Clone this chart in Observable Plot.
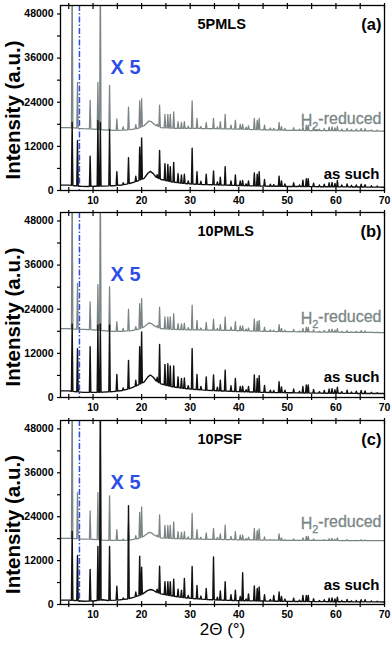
<!DOCTYPE html>
<html><head><meta charset="utf-8">
<script src="https://cdn.jsdelivr.net/npm/d3@7"></script>
<script src="https://cdn.jsdelivr.net/npm/@observablehq/plot@0.6"></script>
<style>
body{margin:0;background:#fff;}
#chart svg{display:block;}
#chart text{font-family:"Liberation Sans", Arial, Helvetica, sans-serif;}
</style>
</head><body><div id="chart"></div>
<script>
// ---------- data ----------
const panelNames = ["5PMLS", "10PMLS", "10PSF"];
const panelTags = ["(a)", "(b)", "(c)"];
const traceLabels = ["H2-reduced", "as such"];
const magnifyLabel = "X 5";
const yTitle = "Intensity (a.u.)";
const xTitle = "2\u0398 (\u00b0)";
const markerLine = [7.2];
const yTickLabels = [0, 12000, 24000, 36000, 48000];
const yTickMarks = [0, 6000, 12000, 18000, 24000, 30000, 36000, 42000, 48000];
const xTickLabels = [10, 20, 30, 40, 50, 60, 70];
const xTickMarks = [5, 10, 15, 20, 25, 30, 35, 40, 45, 50, 55, 60, 65, 70];

// reflection positions (2θ)
const peakPos = [5.7, 6.8, 9.4, 11.0, 11.5, 13.4, 14.9, 16.2, 17.3, 18.8,
  19.6, 20.0, 23.2, 23.7, 24.8, 25.4, 25.9, 26.6, 27.5, 28.2,
  28.8, 29.6, 30.4, 31.4, 32.2, 33.3, 34.8, 35.6, 36.2, 37.2,
  38.4, 39.3, 40.3, 40.8, 41.5, 42.0, 43.2, 43.8, 44.2, 45.3,
  46.5, 47.2, 48.3, 48.8, 49.5, 51.3, 52.5, 53.2, 53.9, 54.3,
  55.4, 56.6, 57.6, 58.6, 59.2, 59.8, 60.3, 61.2, 62.3, 63.2,
  64.2, 65.2, 66.0, 67.3, 68.5];

// ---- panel (a) 5PMLS ----
const baseAsSuchA = [[3.3,1450],[5,1450],[6.2,1300],[7.5,1150],[9,1100],[10.5,1150],[12,1200],[14,1300],[16,1500],[17.5,1900],[19,2500],[20.5,3300],[21.3,4700],[21.8,5200],[22.4,4600],[23,3600],[24,3000],[26,2400],[28,2000],[30,1800],[33,1600],[36,1500],[40,1350],[45,1200],[50,1100],[55,1050],[60,1000],[65,950],[70,900]];
const peaksAsSuchA = [18500,13600,9300,19000,18500, 16600,5100,2100,8900,3900,
  11800,14300,4300,10900,7300, 7100,6500,7600,4600,4200,
  4400,2600,11500,5100,2500, 4400,5300,2300,3600,6500,
  2600,4200,2600,2700,1800, 2600,4800,4400,5100,3000,
  1700,1600,3900,2600,1800, 2100,1500,2800,3200,3200,
  2000,1500,1700,2100,2200, 1900,2700,1500,1800,1400,
  1500,1700,1600,1300,1200];
const baseReducedA = [[3.3,17100],[5,17100],[6.2,17000],[8,16800],[10,16700],[12,16500],[14,16350],[16,16400],[18,16600],[19.5,17000],[20.5,17600],[21.5,18900],[22,18700],[22.8,17800],[24,17100],[27,16900],[30,16900],[35,16800],[40,16700],[45,16500],[50,16350],[60,16250],[70,16150]];
const peaksReducedA = [60000,29400,24600,29400,60000, 28600,19500,17300,22700,17900,
  24400,25000,18000,23200,20700, 20700,20700,21400,18700,18500,
  18700,17500,24400,19600,17400, 18500,19600,17300,18700,20700,
  17800,19100,18000,18000,17200, 17600,19600,19100,19600,17800,
  17000,16900,18500,17400,16900, 17100,16700,17400,17800,17800,
  17100,16700,16900,17200,17300, 17000,17400,16700,16900,16600,
  16700,16900,16800,16500,16450];

// ---- panel (b) 10PMLS ----
const baseAsSuchB = [[3.3,1800],[5,1800],[6.2,1600],[8,1400],[10,1400],[12,1450],[14,1600],[16,1900],[17.5,2400],[19,3200],[20.5,4200],[21.3,5600],[21.8,6100],[22.4,5500],[23,4500],[24,3700],[26,3000],[28,2600],[30,2300],[33,2000],[36,1800],[40,1600],[45,1400],[50,1300],[55,1200],[60,1150],[65,1100],[70,1100]];
const peaksAsSuchB = [20000,13300,13800,19700,20000, 19700,6300,2600,10100,4700,
  13800,17800,5500,14400,9000, 9200,8600,8600,5600,5200,
  5300,3200,13300,6300,3000, 5600,6100,2800,4700,7400,
  3200,5200,3000,3100,2100, 3000,6100,5200,5900,3300,
  2000,1900,4300,2900,2000, 2300,1700,3000,3400,3400,
  2200,1600,1900,2300,2400, 2100,2800,1600,2000,1500,
  1700,1900,1800,1400,1300];
const baseReducedB = [[3.3,18750],[5,18750],[6.2,18600],[8,18500],[10,18400],[12,18200],[14,18000],[16,18000],[18,18200],[19.5,18600],[20.5,19200],[21.5,20300],[22,20100],[22.8,19300],[24,18700],[27,18500],[30,18400],[35,18300],[40,18200],[45,18000],[50,17900],[60,17750],[70,17650]];
const peaksReducedB = [60000,31000,26000,30700,60000, 30100,20600,18800,24000,19300,
  25500,26900,19600,24600,21900, 21900,21900,22800,20100,20000,
  20200,19000,25100,21000,18900, 20400,21300,18800,19800,21900,
  19200,20600,19500,19500,18600, 18900,21300,20700,21000,19100,
  18400,18300,19800,18800,18300, 18500,18100,18800,19100,19100,
  18400,18000,18200,18500,18600, 18300,18700,18000,18200,17900,
  18000,18200,18100,17800,17800];

// ---- panel (c) 10PSF ----
const baseAsSuchC = [[3.3,1200],[5,1200],[6.2,1100],[8,900],[10,950],[12,1300],[13,1100],[15,1200],[17,1500],[18.5,2000],[20,2700],[21.2,3800],[21.8,4100],[22.4,3900],[23,3400],[24,2900],[26,2400],[28,2000],[30,1700],[33,1400],[36,1200],[40,1050],[45,950],[50,850],[60,750],[70,700]];
const peaksAsSuchC = [20000,13400,9600,15900,60000, 15900,5000,1800,27000,3400,
  13200,10200,4200,10500,6200, 6200,6200,6900,4200,3900,
  7100,2500,10400,5200,2300, 4400,13000,2000,3700,6200,
  2700,3900,2200,8700,1500, 2900,5100,4400,4800,2700,
  1400,2500,3400,2200,1500, 1700,1200,2500,2500,2500,
  1600,1100,1300,1700,1800, 1500,2000,1100,1400,1000,
  1100,1300,1300,950,900];
const baseReducedC = [[3.3,18100],[5,18100],[6.2,18000],[8,17900],[10,17800],[12,17600],[14,17500],[16,17500],[18,17700],[19.5,18100],[20.5,18700],[21.5,19700],[22,19600],[22.8,18800],[24,18200],[27,18000],[30,17900],[35,17800],[40,17700],[45,17600],[50,17550],[60,17500],[70,17450]];
const peaksReducedC = [60000,30600,25600,30600,45000, 29700,20500,17900,22500,18800,
  25200,26700,19000,24500,21600, 21600,21600,22600,19900,19700,
  19900,18500,24900,20500,18400, 19600,20800,18300,19300,21700,
  18600,19900,19000,19000,18000, 18400,20800,20200,20700,18500,
  17800,17700,19300,18200,17700, 17900,17500,18200,18600,18600,
  17900,17500,17700,18000,18100, 17800,18200,17500,17700,17400,
  17500,17700,17600,17400,17400];

// ---------- build traces (baseline + reflections) ----------
function baseAt(base, x) {
  for (let i = 0; i < base.length - 1; i++) {
    const [x0, y0] = base[i], [x1, y1] = base[i + 1];
    if (x >= x0 && x <= x1) return y0 + (y1 - y0) * (x - x0) / (x1 - x0);
  }
  return base[base.length - 1][1];
}
function buildTrace(base, apex) {
  const w = 0.15;
  const active = peakPos.map((p, i) => apex[i] > baseAt(base, p));
  const pts = base.filter(([x]) => !peakPos.some((p, i) => active[i] && Math.abs(x - p) <= w))
    .map(([x, y]) => ({x, y}));
  peakPos.forEach((p, i) => {
    if (!active[i]) return;
    pts.push({x: p - w, y: baseAt(base, p - w)}, {x: p, y: apex[i]}, {x: p + w, y: baseAt(base, p + w)});
  });
  pts.sort((a, b) => a.x - b.x);
  return pts;
}

const panels = [
  {asSuch: buildTrace(baseAsSuchA, peaksAsSuchA), reduced: buildTrace(baseReducedA, peaksReducedA),
   height: 207, mt: 5, mb: 17, redDy: 109, suchDy: 163},
  {asSuch: buildTrace(baseAsSuchB, peaksAsSuchB), reduced: buildTrace(baseReducedB, peaksReducedB),
   height: 207, mt: 5, mb: 17, redDy: 100, suchDy: 159},
  {asSuch: buildTrace(baseAsSuchC, peaksAsSuchC), reduced: buildTrace(baseReducedC, peaksReducedC),
   height: 232, mt: 6, mb: 42, redDy: 97, suchDy: 159}
];

const BLUE = "#2d4ee6", GRAY = "#7a8484", BLACK = "#111";
const FONT = "Liberation Sans, Arial, Helvetica, sans-serif";

function makePanel(i) {
  const P = panels[i];
  const T = {fontFamily: FONT};
  const marks = [
    Plot.ruleX(markerLine, {stroke: BLUE, strokeWidth: 1.5, strokeDasharray: "6,2,1.5,2"}),
    Plot.line(P.reduced, {x: "x", y: "y", stroke: GRAY, strokeWidth: 1.25, clip: true}),
    Plot.line(P.asSuch, {x: "x", y: "y", stroke: BLACK, strokeWidth: 1.4, clip: true}),
    Plot.frame({stroke: "#000", strokeWidth: 1.3}),
    Plot.axisX({anchor: "bottom", ticks: xTickMarks, tickSize: 6, dy: -3, tickFormat: () => "", label: null, strokeWidth: 1.2}),
    Plot.axisX({anchor: "top", ticks: xTickMarks, tickSize: 6, dy: 3, tickFormat: () => "", label: null, strokeWidth: 1.2}),
    Plot.axisX({...T, anchor: "bottom", ticks: xTickLabels, tickSize: 0, tickPadding: 6.5, label: null, tickFormat: d => String(d), fontSize: 10.5, fontWeight: "bold"}),
    Plot.axisY({anchor: "left", ticks: yTickMarks, tickSize: 3, tickFormat: () => "", label: null, strokeWidth: 1.2}),
    Plot.axisY({...T, anchor: "left", ticks: yTickLabels, tickSize: 0, tickPadding: 7, label: null, tickFormat: d => String(d), fontSize: 10.5, fontWeight: "bold"}),
    Plot.text([yTitle], {...T, text: d => d, frameAnchor: "left", dx: -47.5, dy: 12, rotate: -90, textAnchor: "middle", fontSize: 20.5, fontWeight: "bold", fill: "#000"}),
    Plot.text([panelNames[i]], {...T, text: d => d, frameAnchor: "top", dx: -25, dy: 13, textAnchor: "start", fontSize: 14.5, fontWeight: "bold", fill: "#000"}),
    Plot.text([panelTags[i]], {...T, text: d => d, frameAnchor: "top-right", dx: -3, dy: 13, textAnchor: "end", fontSize: 16.5, fontWeight: "bold", fill: "#000"}),
    Plot.text([magnifyLabel], {...T, text: d => d, frameAnchor: "top-left", dx: 50, dy: 54, textAnchor: "start", fontSize: 20, fontWeight: "bold", fill: BLUE}),
    Plot.text([traceLabels[0]], {...T, text: d => d, frameAnchor: "top-right", dx: -3, dy: P.redDy, textAnchor: "end", fontSize: 16, fontWeight: "normal", fill: "#7a8686", stroke: "#7a8686", strokeWidth: 0.3}),
    Plot.text([traceLabels[1]], {...T, text: d => d, frameAnchor: "top-right", dx: -5, dy: P.suchDy, textAnchor: "end", fontSize: 15, fontWeight: "bold", fill: "#000"})
  ];
  if (i === 2) {
    marks.push(Plot.text([xTitle], {...T, text: d => d, frameAnchor: "bottom", dy: 30, fontSize: 17, fontWeight: "normal", fill: "#000"}));
  }
  return Plot.plot({
    width: 392, height: P.height,
    marginLeft: 60, marginRight: 8, marginTop: P.mt, marginBottom: P.mb,
    x: {domain: [3.3, 70], label: null},
    y: {domain: [0, 50300], label: null},
    style: {fontFamily: FONT, fontSize: "10.5px", color: "#000", background: "#fff", overflow: "visible"},
    marks
  });
}

const root = document.getElementById("chart");
for (let i = 0; i < 3; i++) {
  root.appendChild(makePanel(i));
}
// subscript 2 in "H2-reduced"
root.querySelectorAll("text").forEach(t => {
  if (t.textContent === "H2-reduced") {
    while (t.firstChild) t.removeChild(t.firstChild);
    const ns = "http://www.w3.org/2000/svg";
    const a = document.createElementNS(ns, "tspan"); a.textContent = "H";
    const b = document.createElementNS(ns, "tspan"); b.textContent = "2"; b.setAttribute("dy", "0.35em"); b.setAttribute("font-size", "0.68em");
    const c = document.createElementNS(ns, "tspan"); c.textContent = "-reduced"; c.setAttribute("dy", "-0.35em");
    t.appendChild(a); t.appendChild(b); t.appendChild(c);
  }
});
</script>
</body></html>
